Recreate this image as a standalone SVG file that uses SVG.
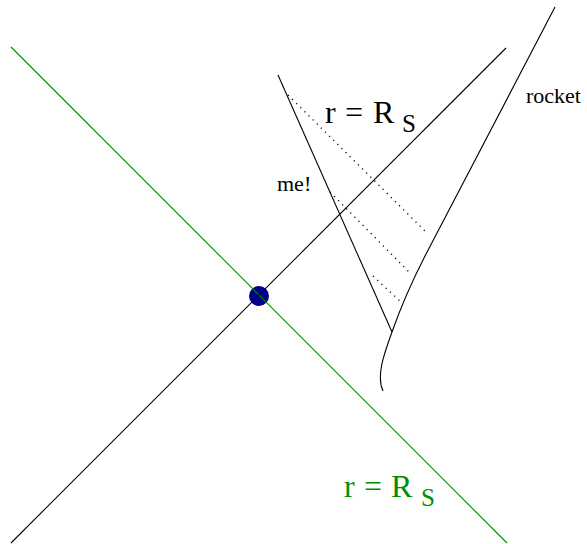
<svg xmlns="http://www.w3.org/2000/svg" width="587" height="544" viewBox="0 0 587 544">
<style>
.ln{fill:none;stroke:#000;stroke-width:1.1}
.gr{fill:none;stroke:#008f00;stroke-width:1.1}
.dt{fill:none;stroke:#000;stroke-width:1.3;stroke-dasharray:1.2 4.6}
.t{font-family:"Liberation Serif","Times New Roman",serif;fill:#000}
.big{font-size:32px}
.sub{font-size:25px}
.sm{font-size:22px}
.g{fill:#008f00}
</style>
<rect width="587" height="544" fill="#fff"/>
<g id="event">
<circle cx="259" cy="296" r="10" fill="#00008f"/>
</g>
<g id="connectors">
<line class="gr" x1="11" y1="47" x2="507" y2="543"/>
<line class="ln" x1="11" y1="543" x2="506" y2="48"/>
<line id="me-worldline" class="ln" x1="278" y1="75" x2="392" y2="332"/>
<path id="rocket-worldline" class="ln" d="M555,7 L425,256 Q405,295 392,332 C384,354 376,376 383,391"/>
<line class="dt" x1="288" y1="95" x2="426" y2="232"/>
<line class="dt" x1="330" y1="192" x2="411" y2="274"/>
<line class="dt" x1="373" y1="276" x2="402" y2="303"/>
</g>
<g id="label-horizon-top">
<text class="t big" y="123"><tspan x="325">r</tspan><tspan x="345">=</tspan><tspan x="373">R</tspan></text>
<text class="t sub" x="402" y="132">S</text>
</g>
<g id="label-horizon-bottom">
<text class="t big g" y="497"><tspan x="344">r</tspan><tspan x="364">=</tspan><tspan x="391">R</tspan></text>
<text class="t sub g" x="421" y="506">S</text>
</g>
<g id="label-me">
<text class="t sm" x="277" y="191">me!</text>
</g>
<g id="label-rocket">
<text class="t sm" x="526" y="103">rocket</text>
</g>
</svg>
